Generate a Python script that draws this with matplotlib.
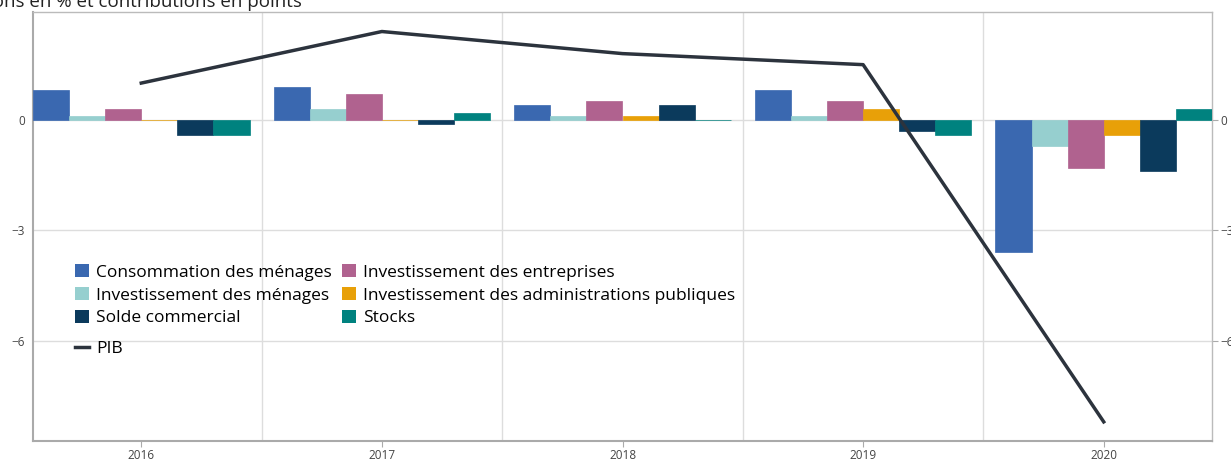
import numpy as np
import matplotlib.pyplot as plt
from matplotlib.patches import Patch
from matplotlib.lines import Line2D

plt.rcParams['font.family'] = ['Open Sans', 'DejaVu Sans']

years = ['2016', '2017', '2018', '2019', '2020']
series = ['Consommation des ménages', 'Investissement des ménages',
          'Investissement des entreprises', 'Investissement des administrations publiques',
          'Solde commercial', 'Stocks']
conso = [0.8, 0.9, 0.4, 0.8, -3.6]
inv_men = [0.1, 0.3, 0.1, 0.1, -0.7]
inv_ent = [0.3, 0.7, 0.5, 0.5, -1.3]
inv_apu = [0.0, 0.0, 0.1, 0.3, -0.4]
solde = [-0.4, -0.1, 0.4, -0.3, -1.4]
stocks = [-0.4, 0.2, 0.0, -0.4, 0.3]
pib = [1.0, 2.4, 1.8, 1.5, -8.2]

colors = ['#3A68B0', '#96CFCF', '#B0628F', '#E8A008', '#0B3A5C', '#00827F']
pib_color = '#2C333D'

fig = plt.figure(figsize=(12.31, 4.59), dpi=100)
ax = fig.add_axes([33/1231, 18/459, (1212-33)/1231, (441-12)/459])

x = np.arange(len(years))
w = 0.15
values = [conso, inv_men, inv_ent, inv_apu, solde, stocks]
for i, (vals, c) in enumerate(zip(values, colors)):
    ax.bar(x - 0.45 + w/2 + i*w, vals, width=w, color=c, edgecolor=c,
           linewidth=0.5, zorder=3)

ax.plot(x, pib, color=pib_color, linewidth=2.5, zorder=4)

ax.set_xlim(-0.45, 4.45)
ax.set_ylim(-8.72, 2.93)
ax.set_yticks([-6, -3, 0])
ax.set_yticklabels(['\u22126', '\u22123', '0'])
ax.set_xticks(x)
ax.set_xticklabels(years)
ax.set_xticks(x[:-1] + 0.5, minor=True)
ax.grid(True, which='minor', axis='x', color='#DDDDDD', linewidth=1, zorder=0)
ax.grid(True, which='major', axis='y', color='#DDDDDD', linewidth=1, zorder=0)
ax.tick_params(axis='x', which='minor', length=0)
ax.tick_params(axis='x', which='major', length=4, color='#AAAAAA',
               labelsize=8.5, labelcolor='#444444', pad=2)
ax.tick_params(axis='y', left=False, right=True, labelright=True, length=4,
               color='#AAAAAA', labelsize=8.5, labelcolor='#444444', pad=2)
for sp in ax.spines.values():
    sp.set_color('#BBBBBB')
    sp.set_linewidth(1.0)
ax.spines['left'].set_linewidth(1.5)
ax.spines['bottom'].set_linewidth(1.5)
ax.spines['left'].set_color('#AAAAAA')
ax.spines['bottom'].set_color('#AAAAAA')

bar_handles = [Patch(facecolor=c, edgecolor='none') for c in colors]
leg1 = ax.legend([bar_handles[i] for i in [0, 1, 4, 2, 3, 5]],
                 [series[i] for i in [0, 1, 4, 2, 3, 5]],
                 ncol=2, loc='upper left', bbox_to_anchor=(0.03, 0.429),
                 frameon=False, fontsize=12.5, handlelength=0.8, handleheight=0.8,
                 handletextpad=0.4, columnspacing=0.6, labelspacing=0.36,
                 borderaxespad=0)
ax.add_artist(leg1)
ax.legend([Line2D([0], [0], color=pib_color, linewidth=2.5)], ['PIB'],
          loc='upper left', bbox_to_anchor=(0.03, 0.25), frameon=False,
          fontsize=12.5, handlelength=0.8, handletextpad=0.4, borderaxespad=0)

fig.text(302/1231, 1.016, 'Variations en % et contributions en points',
         ha='right', va='top', fontsize=13.5, color='#222222')

fig.savefig('out.png', dpi=100)
